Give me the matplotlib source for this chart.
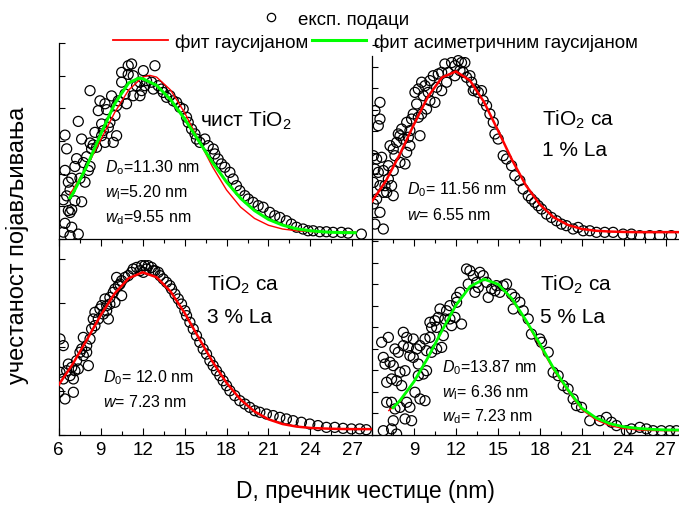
import numpy as np
import matplotlib.pyplot as plt
from matplotlib.lines import Line2D
from matplotlib.ticker import MultipleLocator

plt.rcParams['font.family'] = ['Liberation Sans', 'DejaVu Sans']
plt.rcParams['mathtext.fontset'] = 'custom'
plt.rcParams['mathtext.rm'] = 'Liberation Sans'
plt.rcParams['mathtext.it'] = 'Liberation Sans:italic'

# ---- measured points (D in nm, normalised frequency) ----
tl_pts = [(6.45, 0.53), (6.57, 0.46), (6.45, 0.35), (7.64, 0.51), (7.40, 0.60), (7.16, 0.37), (7.28, 0.41),
          (7.76, 0.39), (8.0, 0.42), (8.35, 0.46), (8.24, 0.49), (8.47, 0.48), (6.69, 0.29), (6.93, 0.31),
          (7.52, 0.31), (7.88, 0.29), (8.12, 0.35), (8.24, 0.37), (6.33, 0.20), (6.57, 0.22), (6.81, 0.25),
          (7.16, 0.195), (7.64, 0.19), (6.69, 0.145), (6.81, 0.135), (6.93, 0.15), (6.45, 0.08), (6.93, 0.06),
          (7.40, 0.025), (6.33, 0.035), (6.81, 0.017), (8.24, 0.757), (8.95, 0.705), (8.83, 0.655), (9.31, 0.69),
          (9.78, 0.73), (9.43, 0.66), (10.02, 0.63), (9.66, 0.595), (9.07, 0.587), (8.59, 0.544), (9.07, 0.527),
          (9.31, 0.493), (8.71, 0.468), (9.19, 0.553), (9.55, 0.57), (10.14, 0.68), (10.26, 0.705), (10.5, 0.80),
          (10.74, 0.74), (10.97, 0.84), (11.21, 0.893), (10.97, 0.884), (10.5, 0.85), (11.33, 0.833),
          (11.57, 0.782), (11.81, 0.80), (12.05, 0.859), (12.28, 0.808), (12.64, 0.80), (12.88, 0.884),
          (12.76, 0.765), (13.12, 0.782), (13.35, 0.765), (13.47, 0.748), (13.71, 0.723), (13.95, 0.731),
          (14.19, 0.705), (14.43, 0.697), (14.66, 0.672), (14.9, 0.663), (15.14, 0.621), (15.26, 0.595),
          (15.5, 0.561), (15.74, 0.536), (15.85, 0.51), (16.09, 0.493), (16.45, 0.51), (16.69, 0.476),
          (17.05, 0.459), (17.16, 0.434), (17.4, 0.408), (17.64, 0.383), (17.88, 0.366), (18.24, 0.34),
          (18.47, 0.306), (18.71, 0.272), (18.95, 0.246), (19.31, 0.221), (19.55, 0.204), (19.9, 0.187),
          (20.26, 0.17), (20.62, 0.162), (21.09, 0.136), (21.45, 0.119), (21.81, 0.11), (22.28, 0.093),
          (22.64, 0.076), (23.0, 0.06), (23.47, 0.051), (23.83, 0.042), (24.19, 0.042), (24.66, 0.037),
          (25.14, 0.037), (25.62, 0.034), (26.21, 0.034), (26.69, 0.03), (27.64, 0.025), (10.14, 0.527),
          (9.9, 0.493), (10.85, 0.69), (11.33, 0.731), (11.81, 0.731), (11.93, 0.757), (12.16, 0.782)]

tr_pts = [(6.21, 0.655), (6.57, 0.697), (6.57, 0.612), (6.45, 0.578), (6.10, 0.425), (6.33, 0.408), (6.69, 0.417),
          (6.21, 0.357), (6.45, 0.34), (6.81, 0.349), (6.10, 0.289), (6.57, 0.272), (6.93, 0.272), (7.40, 0.272),
          (7.05, 0.238), (7.52, 0.221), (6.33, 0.204), (6.10, 0.179), (6.57, 0.136), (6.21, 0.076), (6.81, 0.051),
          (7.17, 0.374), (7.52, 0.459), (7.76, 0.493), (7.29, 0.476), (7.88, 0.536), (8.12, 0.561), (7.64, 0.425),
          (8.0, 0.391), (8.36, 0.383), (8.48, 0.442), (8.71, 0.476), (8.24, 0.51), (8.60, 0.519), (8.71, 0.553),
          (8.83, 0.612), (8.95, 0.638), (9.31, 0.621), (9.43, 0.527), (9.19, 0.689), (9.07, 0.748), (9.31, 0.765),
          (9.55, 0.80), (9.79, 0.782), (10.02, 0.748), (10.14, 0.808), (10.38, 0.833), (10.62, 0.774),
          (10.74, 0.842), (10.98, 0.85), (11.21, 0.893), (11.45, 0.85), (11.69, 0.90), (11.93, 0.884),
          (12.17, 0.91), (12.40, 0.90), (12.64, 0.90), (12.52, 0.85), (12.76, 0.825), (13.0, 0.833), (13.12, 0.80),
          (13.36, 0.765), (13.6, 0.748), (13.83, 0.757), (13.95, 0.706), (14.19, 0.68), (14.43, 0.638),
          (14.67, 0.595), (14.79, 0.536), (15.02, 0.51), (15.38, 0.425), (15.62, 0.408), (15.98, 0.374),
          (16.21, 0.323), (16.57, 0.298), (16.81, 0.255), (17.17, 0.221), (17.40, 0.204), (17.64, 0.187),
          (17.88, 0.17), (18.12, 0.153), (18.48, 0.127), (18.83, 0.11), (19.19, 0.093), (19.55, 0.076),
          (19.90, 0.068), (20.38, 0.051), (20.74, 0.059), (21.1, 0.042), (21.57, 0.042), (22.05, 0.034),
          (22.64, 0.034), (23.24, 0.034), (23.95, 0.025), (24.55, 0.025), (25.14, 0.017), (25.86, 0.017),
          (26.57, 0.017), (27.4, 0.017), (10.14, 0.706), (10.5, 0.697), (9.90, 0.663), (9.55, 0.638),
          (9.67, 0.731), (10.98, 0.757), (11.33, 0.80), (11.93, 0.833), (12.29, 0.859), (13.24, 0.757),
          (8.48, 0.595), (8.0, 0.527), (7.52, 0.349), (7.17, 0.306), (6.81, 0.238)]

bl_pts = [(6.09, 0.49), (6.33, 0.456), (6.09, 0.32), (6.33, 0.286), (6.45, 0.184), (6.0, 0.218), (7.05, 0.218),
          (6.93, 0.345), (7.28, 0.379), (6.69, 0.362), (7.40, 0.337), (7.76, 0.405), (7.76, 0.498), (7.64, 0.439),
          (8.0, 0.456), (8.24, 0.49), (8.12, 0.354), (8.0, 0.422), (8.35, 0.541), (8.59, 0.558), (8.47, 0.592),
          (8.83, 0.592), (8.95, 0.643), (9.19, 0.617), (9.43, 0.634), (9.66, 0.668), (9.55, 0.592), (9.31, 0.694),
          (9.66, 0.702), (9.90, 0.728), (10.02, 0.745), (10.26, 0.762), (10.14, 0.804), (10.5, 0.787),
          (10.74, 0.804), (10.97, 0.813), (11.21, 0.83), (11.57, 0.855), (11.93, 0.864), (12.16, 0.864),
          (12.40, 0.864), (12.64, 0.855), (12.88, 0.838), (13.12, 0.83), (13.24, 0.813), (13.47, 0.796),
          (13.71, 0.779), (13.95, 0.762), (14.07, 0.745), (14.31, 0.719), (14.55, 0.694), (14.78, 0.668),
          (15.02, 0.634), (15.14, 0.609), (15.38, 0.575), (15.62, 0.541), (15.85, 0.507), (16.09, 0.473),
          (16.33, 0.439), (16.57, 0.413), (16.81, 0.379), (17.04, 0.354), (17.28, 0.328), (17.52, 0.303),
          (17.76, 0.277), (18.0, 0.252), (18.24, 0.226), (18.59, 0.201), (18.95, 0.175), (19.31, 0.158),
          (19.66, 0.141), (20.02, 0.124), (20.38, 0.116), (20.85, 0.107), (21.33, 0.099), (21.81, 0.09),
          (22.28, 0.082), (22.76, 0.073), (23.35, 0.065), (23.95, 0.056), (24.54, 0.048), (25.14, 0.039),
          (25.74, 0.039), (26.33, 0.034), (26.93, 0.031), (27.52, 0.031), (27.99, 0.027), (7.52, 0.422),
          (7.16, 0.328), (6.81, 0.303), (8.59, 0.626), (9.07, 0.66), (10.02, 0.677), (10.5, 0.711), (9.43, 0.66),
          (10.38, 0.77), (11.33, 0.847), (11.81, 0.838), (12.28, 0.847), (12.76, 0.838), (12.05, 0.83),
          (7.05, 0.286), (6.57, 0.328)]

br_pts = [(6.69, 0.473), (7.17, 0.498), (6.81, 0.396), (6.93, 0.362), (7.29, 0.371), (7.52, 0.354), (7.05, 0.269),
          (7.40, 0.286), (7.76, 0.277), (8.12, 0.252), (8.0, 0.32), (8.36, 0.328), (8.24, 0.456), (8.60, 0.447),
          (8.48, 0.498), (7.64, 0.439), (7.88, 0.422), (8.71, 0.405), (8.95, 0.396), (9.31, 0.362), (9.07, 0.218),
          (9.43, 0.184), (9.79, 0.175), (9.31, 0.303), (9.67, 0.311), (9.90, 0.328), (7.05, 0.167), (7.40, 0.167),
          (7.64, 0.133), (8.0, 0.141), (8.48, 0.167), (8.71, 0.141), (8.36, 0.082), (8.83, 0.073), (7.52, 0.073),
          (7.40, 0.031), (6.81, 0.022), (7.76, 0.005), (9.43, 0.456), (9.79, 0.49), (10.14, 0.498), (9.90, 0.43),
          (10.26, 0.422), (10.62, 0.439), (10.98, 0.447), (10.14, 0.575), (10.5, 0.583), (10.26, 0.549),
          (10.74, 0.60), (10.86, 0.643), (11.33, 0.634), (11.57, 0.592), (11.93, 0.60), (11.21, 0.592),
          (11.69, 0.558), (12.40, 0.566), (12.05, 0.702), (12.29, 0.728), (12.76, 0.847), (13.0, 0.838),
          (12.88, 0.77), (13.24, 0.813), (13.36, 0.728), (13.6, 0.753), (13.71, 0.83), (13.95, 0.813),
          (14.31, 0.702), (14.55, 0.745), (14.79, 0.736), (14.9, 0.762), (15.38, 0.762), (15.62, 0.77),
          (15.98, 0.719), (16.21, 0.702), (16.57, 0.677), (16.1, 0.643), (16.81, 0.634), (17.17, 0.592),
          (17.40, 0.515), (18.0, 0.49), (18.12, 0.473), (18.6, 0.422), (18.95, 0.32), (19.31, 0.303),
          (19.67, 0.252), (20.02, 0.235), (20.38, 0.184), (20.62, 0.15), (20.98, 0.141), (21.57, 0.073),
          (22.29, 0.073), (22.76, 0.09), (23.12, 0.065), (23.48, 0.048), (24.19, 0.022), (24.55, 0.031),
          (25.14, 0.039), (25.62, 0.031), (26.1, 0.022), (26.69, 0.022), (27.29, 0.022), (27.76, 0.022),
          (10.62, 0.549), (11.1, 0.507), (8.95, 0.49), (9.19, 0.439), (8.24, 0.524), (11.57, 0.66),
          (12.05, 0.677), (13.48, 0.779), (14.19, 0.779), (15.14, 0.728)]

# ---- fitted curves ----
tl_red_x = [6.8, 7, 8, 9, 10, 11, 12, 12.5, 13, 14, 15, 16, 17, 18, 19, 20, 21, 22, 23, 24, 25, 26, 27.2]
tl_red_y = [0.23, 0.25, 0.368, 0.505, 0.645, 0.76, 0.826, 0.835, 0.826, 0.76, 0.645, 0.505, 0.368, 0.25,
            0.163, 0.105, 0.07, 0.051, 0.042, 0.038, 0.036, 0.035, 0.035]
tl_grn_x = [6.8, 7, 8, 9, 10, 11, 11.7, 12, 13, 14, 15, 16, 17, 18, 19, 20, 21, 22, 23, 24, 25, 26, 27.2]
tl_grn_y = [0.21, 0.23, 0.37, 0.534, 0.69, 0.796, 0.82, 0.818, 0.784, 0.711, 0.613, 0.502, 0.39, 0.291,
            0.208, 0.145, 0.10, 0.071, 0.052, 0.042, 0.036, 0.033, 0.032]

tr_red_x = [6, 7, 8, 9, 10, 11, 12, 13, 14, 15, 16, 17, 18, 19, 20, 21, 22, 23, 24, 25, 26, 27, 28.4]
tr_red_y = [0.192, 0.297, 0.434, 0.585, 0.726, 0.824, 0.855, 0.809, 0.70, 0.555, 0.405, 0.274, 0.176,
            0.11, 0.072, 0.051, 0.042, 0.038, 0.036, 0.035, 0.035, 0.035, 0.035]

bl_red_x = [6, 7, 8, 9, 10, 11, 12, 13, 14, 15, 16, 17, 18, 19, 20, 21, 22, 23, 24, 25, 26, 27, 28.4]
bl_red_y = [0.256, 0.362, 0.484, 0.611, 0.722, 0.80, 0.83, 0.805, 0.732, 0.623, 0.497, 0.374, 0.266,
            0.181, 0.12, 0.08, 0.056, 0.043, 0.036, 0.033, 0.031, 0.03, 0.03]

br_red_x = [7.2, 8, 9, 10, 11, 12, 13, 14, 15, 16, 17, 18, 19, 20, 21, 22, 23, 24, 25, 26, 27, 28.4]
br_red_y = [0.125, 0.17, 0.27, 0.395, 0.53, 0.66, 0.757, 0.795, 0.77, 0.69, 0.58, 0.455, 0.33, 0.225,
            0.13, 0.078, 0.048, 0.033, 0.026, 0.023, 0.022, 0.022]
br_grn_x = [7.5, 8, 9, 10, 11, 12, 13, 14, 15, 16, 17, 18, 19, 20, 21, 22, 23, 24, 25, 26, 27, 28.4]
br_grn_y = [0.139, 0.176, 0.272, 0.395, 0.532, 0.662, 0.757, 0.795, 0.77, 0.696, 0.586, 0.465, 0.338,
            0.232, 0.138, 0.088, 0.058, 0.042, 0.034, 0.029, 0.026, 0.025]

xticks = [6, 9, 12, 15, 18, 21, 24, 27]
RED = '#ff0000'
GREEN = '#00ff00'

fig = plt.figure(figsize=(6.79, 5.06), dpi=100)
W, H = 679.0, 506.0


def add_ax(left, top, right, bottom):
    return fig.add_axes([left / W, 1 - bottom / H, (right - left) / W, (bottom - top) / H])


ax_tl = add_ax(58.7, 44, 372, 240)
ax_tr = add_ax(372, 44, 685.3, 240)
ax_bl = add_ax(58.7, 240, 372, 436)
ax_br = add_ax(372, 240, 685.3, 436)

for ax, step in [(ax_tl, 1 / 6), (ax_tr, 0.11), (ax_bl, 0.225), (ax_br, 0.11)]:
    ax.set_xlim(6, 28.4)
    ax.set_ylim(0, 1)
    ax.set_facecolor('none')
    ax.spines['right'].set_visible(False)
    for s in ax.spines.values():
        s.set_linewidth(0.9)
    ax.yaxis.set_major_locator(MultipleLocator(step))
    ax.tick_params(axis='y', which='both', left=True, direction='in', length=4, width=0.8, labelleft=False)
    ax.xaxis.set_minor_locator(MultipleLocator(1.5))

for ax in (ax_tl, ax_tr):
    ax.spines['top'].set_visible(False)
    ax.tick_params(axis='x', which='both', bottom=False, labelbottom=False)
ax_tr.spines['left'].set_bounds(0, 0.934)

for ax in (ax_bl, ax_br):
    ax.spines['top'].set_visible(False)
    ax.set_xticks(xticks)
    ax.xaxis.set_minor_locator(MultipleLocator(1.5))
    ax.tick_params(axis='x', which='both', top=True, direction='in', width=0.8, labelsize=13.5, pad=4)
    ax.tick_params(axis='x', which='major', length=5)
    ax.tick_params(axis='x', which='minor', length=3)
ax_br.set_xticks(xticks[1:])

mk = dict(s=52, facecolors='none', edgecolors='black', linewidths=0.9, zorder=2)
for ax, pts in [(ax_tl, tl_pts), (ax_tr, tr_pts), (ax_bl, bl_pts), (ax_br, br_pts)]:
    px, py = np.array(pts).T
    ax.scatter(px, py, **mk)

ax_tl.plot(tl_red_x, tl_red_y, color=RED, lw=1.0, zorder=3)
ax_tl.plot(tl_grn_x, tl_grn_y, color=GREEN, lw=2.2, zorder=4)
ax_tr.plot(tr_red_x, tr_red_y, color=RED, lw=1.8, zorder=3)
ax_bl.plot(bl_red_x, bl_red_y, color=RED, lw=1.8, zorder=3)
ax_br.plot(br_red_x, br_red_y, color=RED, lw=1.0, zorder=3)
ax_br.plot(br_grn_x, br_grn_y, color=GREEN, lw=2.0, zorder=4)

big = 15
small = 11.5
ax_tl.text(0.451, 0.61, 'чист TiO$_2$', transform=ax_tl.transAxes, fontsize=big, va='center')
ax_tl.text(0.148, 0.367, r'$\mathit{D}_\mathrm{o}$=11.30 nm', transform=ax_tl.transAxes, fontsize=small, va='center')
ax_tl.text(0.148, 0.24, r'$\mathit{w}_\mathrm{l}$=5.20 nm', transform=ax_tl.transAxes, fontsize=small, va='center')
ax_tl.text(0.148, 0.112, r'$\mathit{w}_\mathrm{d}$=9.55 nm', transform=ax_tl.transAxes, fontsize=small, va='center')

ax_tr.text(0.543, 0.612, 'TiO$_2$ са', transform=ax_tr.transAxes, fontsize=big, va='center')
ax_tr.text(0.543, 0.459, '1 % La', transform=ax_tr.transAxes, fontsize=big, va='center')
ax_tr.text(0.112, 0.255, r'$\mathit{D}_\mathrm{0}$= 11.56 nm', transform=ax_tr.transAxes, fontsize=small, va='center')
ax_tr.text(0.112, 0.128, r'$\mathit{w}$= 6.55 nm', transform=ax_tr.transAxes, fontsize=small, va='center')

ax_bl.text(0.473, 0.77, 'TiO$_2$ са', transform=ax_bl.transAxes, fontsize=big, va='center')
ax_bl.text(0.473, 0.607, '3 % La', transform=ax_bl.transAxes, fontsize=big, va='center')
ax_bl.text(0.141, 0.30, r'$\mathit{D}_\mathrm{0}$= 12.0 nm', transform=ax_bl.transAxes, fontsize=small, va='center')
ax_bl.text(0.141, 0.173, r'$\mathit{w}$= 7.23 nm', transform=ax_bl.transAxes, fontsize=small, va='center')

ax_br.text(0.536, 0.77, 'TiO$_2$ са', transform=ax_br.transAxes, fontsize=big, va='center')
ax_br.text(0.536, 0.607, '5 % La', transform=ax_br.transAxes, fontsize=big, va='center')
ax_br.text(0.223, 0.347, r'$\mathit{D}_\mathrm{0}$=13.87 nm', transform=ax_br.transAxes, fontsize=small, va='center')
ax_br.text(0.223, 0.219, r'$\mathit{w}_\mathrm{l}$= 6.36 nm', transform=ax_br.transAxes, fontsize=small, va='center')
ax_br.text(0.223, 0.097, r'$\mathit{w}_\mathrm{d}$= 7.23 nm', transform=ax_br.transAxes, fontsize=small, va='center')

fig.text(0.5375, 0.028, 'D, пречник честице (nm)', ha='center', va='center', fontsize=16.5)
fig.text(0.0265, 0.516, 'учестаност појављивања', ha='center', va='center', rotation=90, fontsize=17)

h_sc = Line2D([], [], ls='none', marker='o', mfc='none', mec='black', ms=6, mew=0.9)
h_red = Line2D([], [], color=RED, lw=1.3)
h_grn = Line2D([], [], color=GREEN, lw=2.2)
fig.legend([h_sc], ['експ. подаци'], loc='center', bbox_to_anchor=(0.487, 0.96), frameon=False,
           fontsize=13.5, handlelength=2.0, handletextpad=0.4, borderpad=0)
fig.legend([h_red, h_grn], ['фит гаусијаном', 'фит асиметричним гаусијаном'], loc='center',
           bbox_to_anchor=(0.553, 0.915), ncol=2, frameon=False, fontsize=13.5, handlelength=2.9,
           handletextpad=0.4, columnspacing=0.2, borderpad=0)

fig.savefig('out.png', dpi=100)
